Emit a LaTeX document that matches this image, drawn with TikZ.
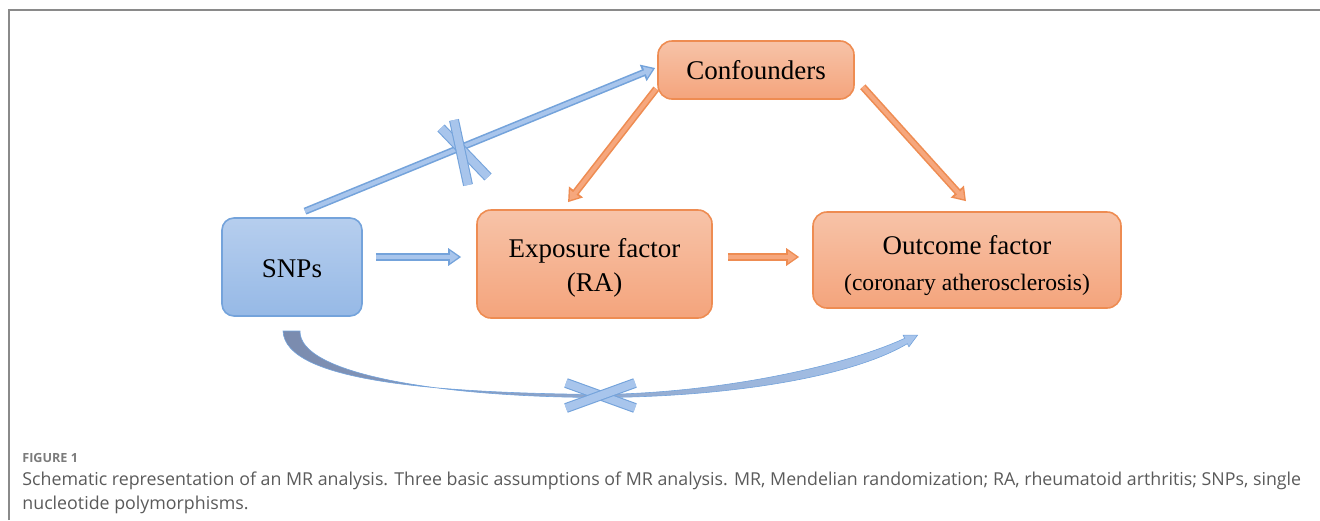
\documentclass[tikz,border=0pt]{standalone}
\usepackage{fontspec}
\setmainfont{Liberation Serif}
\newfontfamily\capfont{Open Sans}
\usetikzlibrary{arrows.meta,calc}
\definecolor{bluetop}{HTML}{B6CEEE}
\definecolor{bluebot}{HTML}{96B9E6}
\definecolor{blueline}{HTML}{74A3DB}
\definecolor{bluearr}{HTML}{A8C5EC}
\definecolor{orangetop}{HTML}{F7C3A8}
\definecolor{orangebot}{HTML}{F4A47C}
\definecolor{orangeline}{HTML}{EE8C52}
\definecolor{orangearr}{HTML}{F6A77D}
\definecolor{curvedark}{HTML}{7A8BAE}
\definecolor{curvemid}{HTML}{4A7EC8}
\definecolor{framegray}{HTML}{8A8A8A}
\definecolor{capgray}{HTML}{5A5A5A}
\begin{document}
\begin{tikzpicture}[x=.5pt, y=-.5pt,
  box/.style={draw=#1line, line width=.8pt, rounded corners=7pt, top color=#1top, bottom color=#1bot,
    align=center, inner sep=0pt, font=\fontsize{13.5}{18}\selectfont},
  fat/.style={line width=3.6pt, draw=#1line, -{Triangle[length=6.5pt,width=8.5pt]},
    postaction={draw=#1arr, line width=2pt, shorten >=1.3pt, -{Triangle[length=4.2pt,width=5.6pt]}}},
  xbar/.style={line width=5pt, draw=blueline, postaction={draw=bluearr, line width=3.9pt}},
  captext/.style={anchor=west, inner sep=0pt, text=capgray, font=\capfont\fontsize{8.9}{11}\selectfont}]
\useasboundingbox (0,0) rectangle (1320,520);
\draw[framegray, line width=1pt] (9,520) -- (9,10) -- (1320,10);
% boxes
\node[box=blue, rounded corners=6pt, minimum width=70pt, minimum height=49pt] (snps) at (292,267) {\rule{0pt}{11pt}SNPs};
\node[box=orange, minimum width=98pt, minimum height=29pt] (conf) at (756,70) {Confounders};
\node[box=orange, minimum width=117.5pt, minimum height=54pt] (expo) at (594.5,264)
  {\rule{0pt}{13pt}Exposure factor\\[-1pt](RA)};
\node[box=orange, minimum width=154pt, minimum height=48pt] (outc) at (967,260)
  {\rule{0pt}{15pt}Outcome factor\\{\fontsize{11.8}{14}\selectfont (coronary atherosclerosis)}};
% arrows
\draw[fat=blue]   ($(snps.east)+(13,-10)$)        -- ($(expo.west)+(-15,-7)$);
\draw[fat=orange] ($(expo.east)+(15,-7)$)         -- ($(outc.west)+(-13,-3)$);
\draw[fat=orange] ($(conf.south west)+(-1,-11)$)  -- ($(expo.north)+(-26.5,-7)$);
\draw[fat=orange] ($(conf.south east)+(8,-13)$)   -- ($(outc.north)+(-1,-10)$);
\draw[fat=blue]   ($(snps.north)+(13,-6)$)        -- ($(conf.west)+(-2,-2)$);
\draw[xbar] (441,128) -- (488,177);
\draw[xbar] (454,120) -- (468,185);
% curved arrow below
\shade[left color=curvedark, middle color=curvemid, right color=bluearr, draw=blueline, line width=.3pt]
  (283,331) .. controls (285,382) and (440,393) .. (600,394.5)
  .. controls (720,393) and (845,366) .. (904.7,338.3)
  -- (903.1,335.2) -- (917.6,335.1) -- (908.9,346.8) -- (907.3,343.7)
  .. controls (848,379) and (720,397) .. (600,397.5)
  .. controls (440,397) and (299,374) .. (300,331) -- cycle;
\draw[xbar] (566,383) -- (635,408);
\draw[xbar] (566,408) -- (635,383);
% caption
\node[captext, font=\capfont\bfseries\fontsize{6.3}{8}\selectfont, text=capgray!80] (fig) at (22,458) {FIGURE 1};
\node[captext] (cap1) at (22,481) {Schematic representation of an MR analysis. Three basic assumptions of MR analysis. MR, Mendelian randomization; RA, rheumatoid arthritis; SNPs, single};
\node[captext] (cap2) at (22,505) {nucleotide polymorphisms.};
\end{tikzpicture}
\end{document}
